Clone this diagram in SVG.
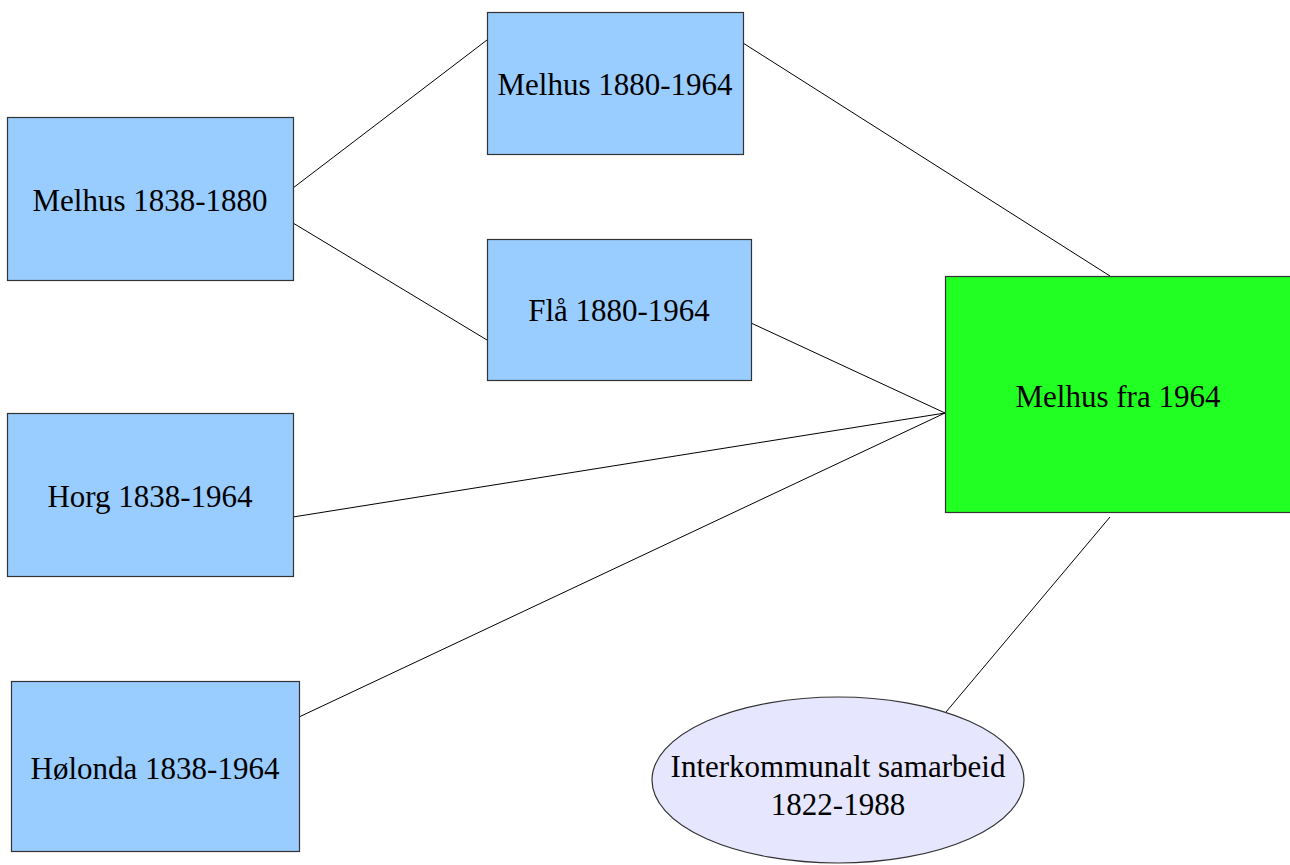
<svg xmlns="http://www.w3.org/2000/svg" width="1290" height="865" viewBox="0 0 1290 865">
<style>
.box{fill:#99ccff;stroke:#333;stroke-width:1.2}
.t{font-family:"Liberation Serif",serif;font-size:31px;fill:#000;text-anchor:middle}
.c line{stroke:#000;stroke-width:1}
</style>
<rect width="1290" height="865" fill="#fff"/>
<g class="c" id="connectors">
<line x1="293" y1="188" x2="487" y2="40"/>
<line x1="293" y1="223" x2="487" y2="340"/>
<line x1="743" y1="43" x2="1110" y2="276"/>
<line x1="751" y1="323" x2="945" y2="413"/>
<line x1="293" y1="517" x2="945" y2="413"/>
<line x1="299" y1="717" x2="945" y2="413"/>
<line x1="1110" y1="517" x2="946" y2="712"/>
</g>
<g id="n1"><rect class="box" x="7.5" y="117.5" width="286" height="163"/><text class="t" x="150" y="211">Melhus 1838-1880</text></g>
<g id="n2"><rect class="box" x="487.5" y="12.5" width="256" height="142"/><text class="t" x="615" y="95">Melhus 1880-1964</text></g>
<g id="n3"><rect class="box" x="487.5" y="239.5" width="264" height="141"/><text class="t" x="619" y="321">Flå 1880-1964</text></g>
<g id="n4"><rect class="box" x="7.5" y="413.5" width="286" height="163"/><text class="t" x="150" y="507">Horg 1838-1964</text></g>
<g id="n5"><rect class="box" x="11.5" y="681.5" width="288" height="170"/><text class="t" x="155" y="779">Hølonda 1838-1964</text></g>
<g id="n6"><rect x="945.5" y="276.5" width="350" height="236" fill="#22ff22" stroke="#333" stroke-width="1.2"/><text class="t" x="1118" y="407">Melhus fra 1964</text></g>
<g id="n7"><ellipse cx="838" cy="780" rx="186" ry="83" fill="#e6e6ff" stroke="#333" stroke-width="1.2"/><text class="t" x="838" y="777">Interkommunalt samarbeid</text><text class="t" x="838" y="815">1822-1988</text></g>
</svg>
